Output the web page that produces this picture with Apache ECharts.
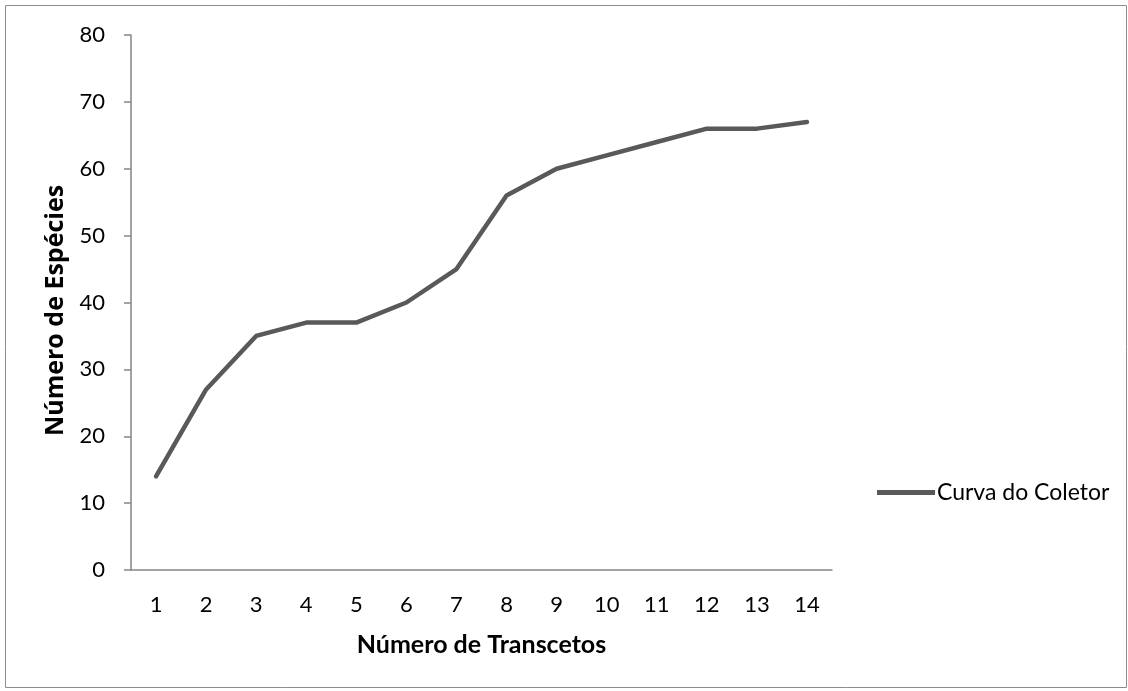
<!DOCTYPE html>
<html>
<head>
<meta charset="utf-8">
<style>
  html, body { margin: 0; padding: 0; background: #ffffff; }
  #chart { width: 1128px; height: 691px; }
</style>
<script src="https://cdn.jsdelivr.net/npm/echarts@6/dist/echarts.min.js"></script>
</head>
<body>
<div id="chart"></div>
<script>
// Species accumulation per transect
const transects = ['1', '2', '3', '4', '5', '6', '7', '8', '9', '10', '11', '12', '13', '14'];
const species = [14, 27, 35, 37, 37, 40, 45, 56, 60, 62, 64, 66, 66, 67];
const seriesName = 'Curva do Coletor';
const xTitle = 'Número de Transcetos';
const yTitle = 'Número de Espécies';

const font = 'Lato, "Open Sans", "Noto Sans", sans-serif';
const chart = echarts.init(document.getElementById('chart'), null, { renderer: 'canvas' });

chart.setOption({
  backgroundColor: '#ffffff',
  animation: false,
  textStyle: { fontFamily: font },
  graphic: [{
    type: 'rect',
    shape: { x: 5.5, y: 5.5, width: 1121, height: 682 },
    style: { fill: 'none', stroke: '#8c8c8c', lineWidth: 1 },
    silent: true
  }],
  grid: { left: 131, right: 296, top: 35, bottom: 121 },
  legend: {
    orient: 'vertical',
    left: 872,
    top: 476,
    icon: 'rect',
    itemWidth: 58,
    itemHeight: 5,
    itemGap: 0,
    textStyle: { fontSize: 23, color: '#000000', fontFamily: font, padding: [0, 0, 0, -3] },
    data: [seriesName]
  },
  xAxis: {
    type: 'category',
    data: transects,
    boundaryGap: true,
    name: xTitle,
    nameLocation: 'middle',
    nameGap: 62,
    nameTextStyle: { fontSize: 25, fontWeight: 'bold', color: '#000000', fontFamily: font },
    axisLine: { lineStyle: { color: '#868686', width: 1.5 } },
    axisTick: { show: false },
    axisLabel: { fontSize: 22, color: '#000000', margin: 24, fontFamily: font },
    splitLine: { show: false }
  },
  yAxis: {
    type: 'value',
    min: 0,
    max: 80,
    interval: 10,
    name: yTitle,
    nameLocation: 'middle',
    nameGap: 61,
    nameRotate: 90,
    nameTextStyle: {
      fontSize: 25, fontWeight: 'bold', color: '#000000',
      fontFamily: '"Open Sans", Lato, sans-serif', padding: [0, 16, 0, 0]
    },
    axisLine: { show: true, lineStyle: { color: '#868686', width: 1.5 } },
    axisTick: { show: true, length: 7, lineStyle: { color: '#868686', width: 1.5 } },
    axisLabel: { fontSize: 22, color: '#000000', margin: 26, fontFamily: font },
    splitLine: { show: false }
  },
  series: [{
    name: seriesName,
    type: 'line',
    data: species,
    symbol: 'none',
    color: '#595959',
    lineStyle: { color: '#595959', width: 4.5, join: 'round', cap: 'round' }
  }]
});
</script>
</body>
</html>
